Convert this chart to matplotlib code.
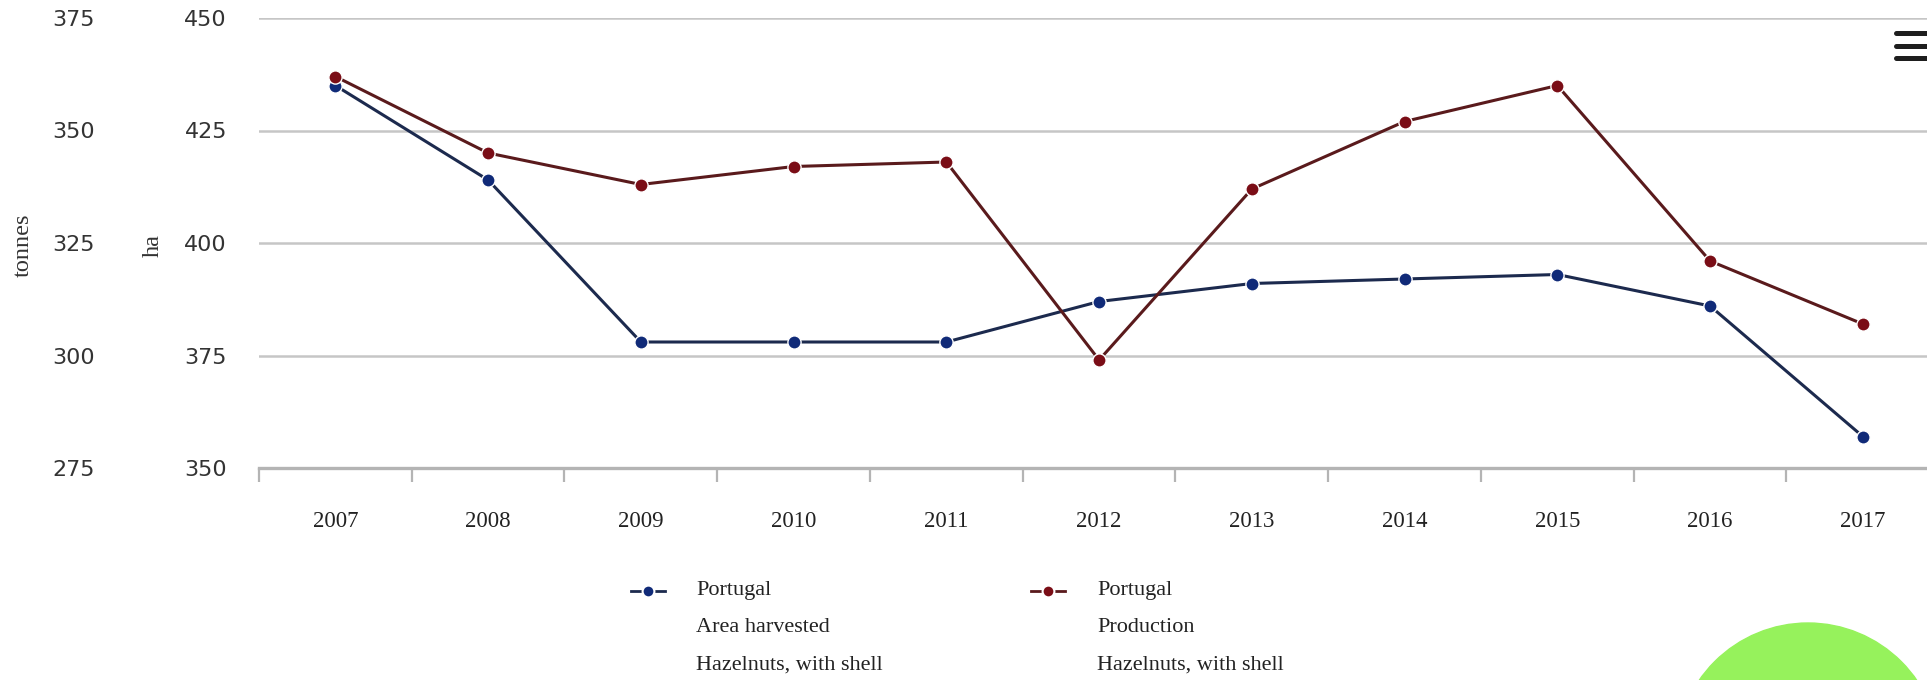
import numpy as np
import matplotlib
matplotlib.use('Agg')
import matplotlib.pyplot as plt
from matplotlib.lines import Line2D
from matplotlib.patches import Circle

# --- dados ---
anos = ['2007', '2008', '2009', '2010', '2011', '2012', '2013', '2014', '2015', '2016', '2017']
area_ha = [435, 414, 378, 378, 378, 387, 391, 392, 393, 386, 357]          # Area harvested (ha)
producao_t = [362, 345, 338, 342, 343, 299, 337, 352, 360, 321, 307]       # Production (tonnes)
ticks_ha = [350, 375, 400, 425, 450]
ticks_t = [275, 300, 325, 350, 375]
legenda = ['Portugal\nArea harvested\nHazelnuts, with shell',
           'Portugal\nProduction\nHazelnuts, with shell']

cor_azul = '#102a78'
cor_azul_linha = '#1c2a4e'
cor_verm = '#7a0d16'
cor_verm_linha = '#5a1a1c'
cor_grade = '#c6c6c6'
serif = 'Liberation Serif'

fig = plt.figure(figsize=(19.27, 6.8), dpi=100)
W, H = 1927, 680
ax = fig.add_axes([259 / W, 1 - 468 / H, 1 - 259 / W, (468 - 18) / H])
ax2 = ax.twinx()

x = np.arange(len(anos))

# séries
ax.plot(x, area_ha, color=cor_azul_linha, lw=2.2, marker='o', ms=9.5,
        mfc=cor_azul, mec='white', mew=1, zorder=3, clip_on=False)
ax2.plot(x, producao_t, color=cor_verm_linha, lw=2.2, marker='o', ms=9.5,
         mfc=cor_verm, mec='white', mew=1, zorder=3, clip_on=False)

# eixos
ax.set_xlim(-0.5, 10.42)
ax.set_ylim(350, 450)
ax2.set_ylim(275, 375)
ax.set_yticks(ticks_ha)
ax2.set_yticks(ticks_t)
ax2.yaxis.set_ticks_position('left')

ax.grid(axis='y', color=cor_grade, lw=1.8)
ax.set_axisbelow(True)
for s in ['top', 'right', 'left']:
    ax.spines[s].set_visible(False)
for s in ax2.spines:
    ax2.spines[s].set_visible(False)
ax.spines['bottom'].set_color('#b4b4b4')
ax.spines['bottom'].set_linewidth(2.4)

ax.tick_params(axis='y', length=0, pad=23, labelsize=16, labelcolor='#333333')
ax2.tick_params(axis='y', length=0, pad=118, labelsize=16, labelcolor='#333333')

ax.set_xticks(x)
ax.set_xticklabels(anos, fontfamily=serif)
ax.set_xticks(np.arange(-0.5, 10.5, 1), minor=True)
ax.tick_params(axis='x', which='major', length=0, pad=31, labelsize=16.5, labelcolor='#222222')
ax.tick_params(axis='x', which='minor', length=10, width=1.6, color='#b4b4b4')

fig.text(23 / W, 1 - 245 / H, 'tonnes', rotation=90, ha='center', va='center',
         fontsize=17.5, fontfamily=serif, color='#333333')
fig.text(153 / W, 1 - 245 / H, 'ha', rotation=90, ha='center', va='center',
         fontsize=17.5, fontfamily=serif, color='#333333')

# legenda manual
for (mx, tx), cor, cor_l, rotulo in zip([(648, 696), (1048, 1097)],
                                        [cor_azul, cor_verm],
                                        [cor_azul_linha, cor_verm_linha], legenda):
    y0 = 1 - 591 / H
    fig.add_artist(Line2D([(mx - 17) / W, (mx + 17) / W], [y0, y0], color=cor_l, lw=2,
                          transform=fig.transFigure))
    fig.add_artist(Line2D([mx / W], [y0], marker='o', ms=8.5, mfc=cor, mec='white', mew=1.5,
                          lw=0, transform=fig.transFigure))
    for k, linha in enumerate(rotulo.split('\n')):
        fig.text(tx / W, 1 - (591 + 37 * k) / H, linha, ha='left', va='center',
                 fontsize=16, fontfamily=serif, color='#222222')

# ícone de menu e círculo verde
for yy in [33, 46, 58]:
    fig.add_artist(Line2D([18.96, 19.4], [(H - yy) / 100] * 2, color='#1e1e1e', lw=3.6,
                          solid_capstyle='round', transform=fig.dpi_scale_trans))
fig.add_artist(Circle((18.08, -0.75), 1.32, color='#96f25c', transform=fig.dpi_scale_trans))

fig.savefig('out.png', dpi=100, facecolor='white')
